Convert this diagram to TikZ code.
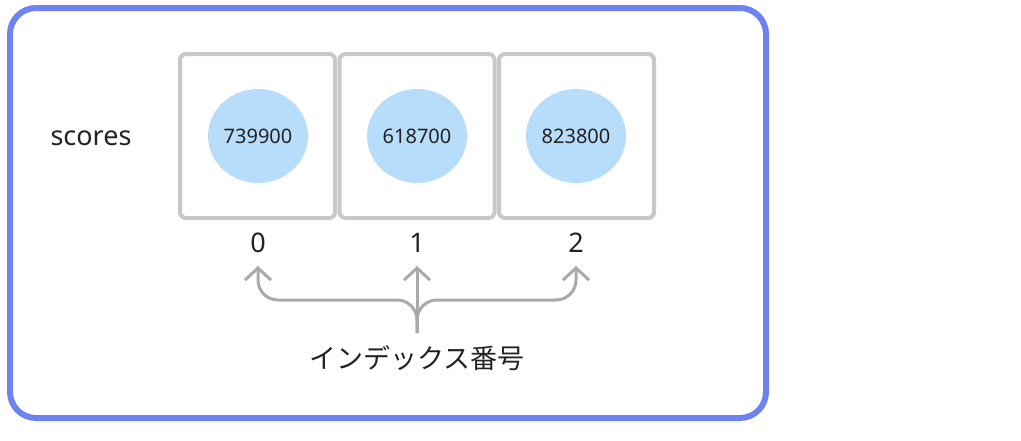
\documentclass[tikz,border=0pt]{standalone}
\usepackage{fontspec}
\setmainfont{Noto Sans}
\newfontfamily\cjk{Noto Sans CJK JP}
\usetikzlibrary{arrows.meta,shapes.geometric}
\definecolor{outerblue}{RGB}{110,130,240}
\definecolor{boxgray}{RGB}{200,200,200}
\definecolor{bubble}{RGB}{184,221,251}
\definecolor{arrgray}{RGB}{170,170,170}
\definecolor{ink}{RGB}{34,34,34}
\tikzset{
  cell/.style={draw=boxgray, line width=4pt, rounded corners=6pt, minimum width=155pt, minimum height=164pt, inner sep=0pt},
  val/.style={fill=bubble, ellipse, minimum width=100pt, minimum height=94pt, inner sep=0pt, font=\fontsize{20}{23}\selectfont, text=ink},
  idx/.style={font=\fontsize{27}{30}\selectfont, text=ink},
  arr/.style={draw=arrgray, line width=3pt, -{Straight Barb[length=12pt,width=26pt,line width=3pt]}},
}
\begin{document}
\begin{tikzpicture}[x=1pt,y=-1pt]
\useasboundingbox (0,0) rectangle (1021,440);
\draw[outerblue, line width=6pt, rounded corners=26pt] (10,8) rectangle (766,418);
\node[text=ink, font=\fontsize{27}{30}\selectfont] (lbl) at (91,138) {scores};
\foreach \i/\x/\v in {0/258/739900,1/417/618700,2/576/823800}{
  \node[cell] (c\i) at (\x+0.5*\i-0.5,136) {};
  \node[val] (v\i) at (\x,136) {\v};
  \node[idx] (n\i) at (\x,243) {\i};
  \coordinate (t\i) at (\x,266);
}
\coordinate (base) at (417,333);
\coordinate (j) at (417,300);
\draw[arr, rounded corners=20pt] (base) -- (j) -| (t0);
\draw[arr, rounded corners=20pt] (base) -- (j) -| (t2);
\draw[arr] (base) -- (t1);
\node[text=ink, font=\cjk\fontsize{27}{30}\selectfont] (cap) at (417,358) {インデックス番号};
\end{tikzpicture}
\end{document}
